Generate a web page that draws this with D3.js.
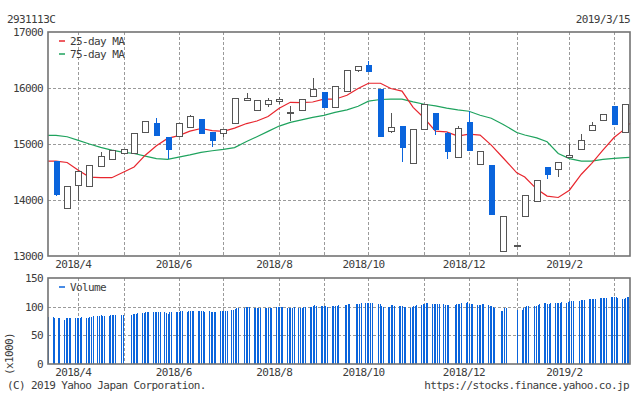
<!DOCTYPE html>
<html>
<head>
<meta charset="utf-8">
<script src="https://d3js.org/d3.v7.min.js"></script>
<style>
  body { margin: 0; background: #fff; }
  text { font-family: "DejaVu Sans Mono", monospace; font-size: 11px; letter-spacing: -0.6px; fill: #3c3c3c; }
</style>
</head>
<body>
<svg id="chart" width="634" height="394"></svg>
<script>
// weekly candles, one per week starting 2018-03-19
const opens  = [14695,13862,14261,14243,14600,14725,14832,14832,15206,15377,15128,15150,15306,15449,15217,15188,15367,15777,15616,15716,15765,15570,15604,15866,15930,15663,15955,16330,16406,15978,15235,15319,14664,15260,15550,15188,14760,15390,14636,14623,13095,13185,13719,13987,14590,14547,14772,14903,15247,15420,15675,15206];
const highs  = [14700,14249,14520,14618,14855,14885,14910,15190,15402,15467,15128,15367,15515,15449,15217,15275,15813,15902,15777,15830,15836,15675,15807,16174,15930,16044,16330,16401,16478,15978,15545,15319,15260,15706,15550,15210,15319,15586,14867,14623,13714,13195,14083,14355,14590,14671,15000,15176,15390,15527,15675,15706];
const lows   = [14080,13862,13980,14243,14600,14725,14832,14832,15206,15146,14725,15150,15306,15185,14950,15128,15367,15777,15616,15652,15723,15413,15585,15866,15645,15663,15955,16287,16287,15128,15188,14682,14664,15260,15158,14736,14760,14878,14636,13732,13095,13185,13719,13987,14380,14405,14772,14903,15247,15420,15337,15206];
const closes = [14088,14249,14511,14618,14778,14885,14903,15190,15402,15146,14891,15367,15497,15185,15057,15260,15813,15830,15777,15782,15800,15580,15807,15991,15645,16044,16330,16401,16287,15128,15295,14932,15260,15706,15247,14860,15288,14878,14867,13732,13714,13195,14083,14355,14450,14671,14802,15064,15331,15527,15337,15706];

// moving averages read at each weekly candle, plus their values at the left and right edges
const ma25 = [14695,14670,14530,14410,14398,14398,14500,14590,14800,14970,15100,15150,15230,15277,15240,15225,15283,15365,15410,15490,15640,15745,15740,15750,15800,15800,15870,15990,16085,16085,15991,15945,15655,15460,15230,15217,15140,15176,15160,14980,14750,14486,14410,14195,14070,14045,14175,14460,14655,14890,15115,15275];
const ma25Edges = [14695, 15370];
const ma75 = [15155,15130,15065,15000,14940,14890,14850,14830,14785,14740,14725,14765,14805,14850,14880,14905,14935,15045,15130,15225,15320,15385,15430,15475,15510,15565,15610,15675,15765,15795,15800,15800,15752,15710,15680,15640,15610,15585,15514,15460,15350,15206,15160,15110,15040,14830,14740,14695,14695,14725,14743,14755];
const ma75Edges = [15155, 14760];

// daily volume (x1000), one row per week Mon..Fri, first row is the week of 2018-03-12
const firstMonday = "2018-03-12";
const volumes = [
  [null,null,null,null,82],
  [82,81,null,80,80],[77,80,80,80,80],[80,80,80,80,82],[80,81,82,82,84],
  [84,84,86,84,84],[84,86,86,86,86],[null,86,86,null,null],[86,87,88,88,89],
  [89,89,90,90,91],[91,91,91,90,90],[90,89,88,90,90],[91,91,91,93,93],
  [91,93,93,93,93],[93,93,93,93,91],[93,91,91,91,91],[93,93,93,93,93],
  [95,95,96,97,97],[null,98,99,99,99],[97,97,97,97,98],[97,98,98,98,98],
  [99,100,100,99,99],[98,97,98,98,99],[98,98,98,99,99],[99,100,101,103,101],
  [101,101,101,101,100],[101,101,101,101,103],[null,103,103,104,104],[null,104,104,104,106],
  [106,106,106,106,106],[null,104,105,101,100],[100,100,103,103,101],[101,101,101,100,100],
  [98,100,101,101,103],[103,104,105,106,106],[105,104,104,104,104],[104,103,103,103,null],
  [103,104,104,105,106],[107,108,105,105,105],[103,103,103,104,105],[103,101,101,100,98],
  [null,92,93,97,97],[null,null,null,null,95],[95,98,100,101,101],[null,101,101,103,104],
  [106,107,105,105,106],[106,106,106,106,108],[107,108,110,110,110],[null,110,112,112,112],
  [113,113,113,113,113],[115,115,115,115,115],[116,116,116,116,115],[113,114,115,116,117]
];

const priceTicks = [17000, 16000, 15000, 14000, 13000];
const volumeTicks = [150, 100, 50, 0];
const code = "2931113C";
const lastDate = "2019/3/15";

const svg = d3.select("#chart");
const parse = d3.timeParse("%Y-%m-%d");
const DAY = 864e5;
const monday0 = parse(firstMonday);

const x = d3.scaleTime()
  .domain([parse("2018-03-16"), parse("2019-03-16")])
  .range([48, 630]);
const yP = d3.scaleLinear().domain([13000, 17000]).range([256, 32]);
const yV = d3.scaleLinear().domain([0, 150]).range([364, 278]);

const blue = "#0a64dc", red = "#e8262e", green = "#1fa35e", frame = "#737373", grid = "#9a9a9a";

// daily volume points
const days = [];
volumes.forEach((row, w) => row.forEach((v, j) => {
  if (v != null) days.push({ date: new Date(monday0.getTime() + (7 * w + j) * DAY), v: v });
}));

// candles: centred between the first trading day and friday of each week
const candles = opens.map((o, i) => {
  const w = i + 1;
  const row = volumes[w];
  const first = row.findIndex(v => v != null);
  const firstDay = new Date(monday0.getTime() + (7 * w + first) * DAY);
  const mid = new Date(monday0.getTime() + (7 * w + (first + 4) / 2) * DAY);
  return { o: o, h: highs[i], l: lows[i], c: closes[i], date: mid, firstDay: firstDay };
});

// month gridlines at the first candle of each month
const monthMarks = candles.filter((d, i) => i > 0 && d.firstDay.getMonth() !== candles[i - 1].firstDay.getMonth());

function panel(top, bottom, yTicks, yScale) {
  const g = svg.append("g");
  g.selectAll("line.h").data(yTicks.slice(1, -1)).join("line")
    .attr("x1", 48).attr("x2", 630)
    .attr("y1", d => Math.round(yScale(d)) + 0.5).attr("y2", d => Math.round(yScale(d)) + 0.5)
    .attr("stroke", grid).attr("stroke-dasharray", "3,2");
  g.selectAll("line.v").data(monthMarks).join("line")
    .attr("x1", d => Math.round(x(d.date)) + 0.5).attr("x2", d => Math.round(x(d.date)) + 0.5)
    .attr("y1", top).attr("y2", bottom)
    .attr("stroke", grid).attr("stroke-dasharray", "3,2");
  g.selectAll("text.yl").data(yTicks).join("text")
    .attr("x", 43).attr("y", d => yScale(d) + 4)
    .attr("text-anchor", "end").text(d => d);
  g.selectAll("text.ml").data(monthMarks.filter(d => d.firstDay.getMonth() % 2 === 1)).join("text")
    .attr("x", d => x(d.date) - 5).attr("y", bottom + 12)
    .attr("text-anchor", "middle")
    .text(d => d.firstDay.getFullYear() + "/" + (d.firstDay.getMonth() + 1));
  return g;
}

const pg = panel(32, 256, priceTicks, yP);
const vg = panel(278, 364, volumeTicks, yV);

// volume bars
vg.append("g").selectAll("rect").data(days).join("rect")
  .attr("x", d => Math.round(x(d.date)))
  .attr("width", 1)
  .attr("y", d => Math.round(yV(d.v)))
  .attr("height", d => Math.round(yV(0)) - Math.round(yV(d.v)))
  .attr("fill", blue)
  .attr("shape-rendering", "crispEdges");

// moving averages
const maLine = (vals, edges) => [{ date: x.domain()[0], v: edges[0] }]
  .concat(vals.map((v, i) => ({ date: candles[i].date, v: v })))
  .concat([{ date: x.domain()[1], v: edges[1] }]);
const line = d3.line().x(d => x(d.date)).y(d => yP(d.v));
pg.append("path").datum(maLine(ma75, ma75Edges)).attr("d", line)
  .attr("fill", "none").attr("stroke", green).attr("stroke-width", 1.2);
pg.append("path").datum(maLine(ma25, ma25Edges)).attr("d", line)
  .attr("fill", "none").attr("stroke", red).attr("stroke-width", 1.2);

// candles
const cg = pg.append("g").attr("shape-rendering", "crispEdges");
candles.forEach(d => {
  const cx = Math.round(x(d.date));
  const up = d.c >= d.o;
  const col = up ? "#555" : blue;
  cg.append("line")
    .attr("x1", cx + 0.5).attr("x2", cx + 0.5)
    .attr("y1", yP(d.h)).attr("y2", yP(d.l))
    .attr("stroke", col);
  const top = yP(Math.max(d.o, d.c)), bot = yP(Math.min(d.o, d.c));
  if (up) {
    cg.append("rect")
      .attr("x", cx - 2.5).attr("width", 6)
      .attr("y", Math.round(top) + 0.5).attr("height", Math.max(1, Math.round(bot) - Math.round(top)))
      .attr("fill", "#fff").attr("stroke", col);
  } else {
    cg.append("rect")
      .attr("x", cx - 2).attr("width", 6)
      .attr("y", top).attr("height", Math.max(1, bot - top))
      .attr("fill", blue);
  }
});

// frames
[[32, 256], [278, 364]].forEach(([t, b]) => {
  svg.append("rect").attr("x", 48).attr("y", t).attr("width", 582).attr("height", b - t)
    .attr("fill", "none").attr("stroke", frame).attr("stroke-width", 1.6);
});

// legends
const legend = [["25-day MA", red, 41], ["75-day MA", green, 54], ["Volume", blue, 287]];
legend.forEach(([name, col, yy]) => {
  svg.append("line").attr("x1", 59).attr("x2", 65).attr("y1", yy).attr("y2", yy)
    .attr("stroke", col).attr("stroke-width", 1.5);
  svg.append("text").attr("x", 70).attr("y", yy + 4).text(name);
});

// titles and notes
svg.append("text").attr("x", 7).attr("y", 23).text(code);
svg.append("text").attr("x", 630).attr("y", 23).attr("text-anchor", "end").text(lastDate);
svg.append("text").attr("transform", "translate(13,354) rotate(-90)").attr("text-anchor", "middle").text("(x1000)");
svg.append("text").attr("x", 7).attr("y", 389).text("(C) 2019 Yahoo Japan Corporation.");
svg.append("text").attr("x", 629).attr("y", 389).attr("text-anchor", "end").text("https://stocks.finance.yahoo.co.jp");
</script>
</body>
</html>
